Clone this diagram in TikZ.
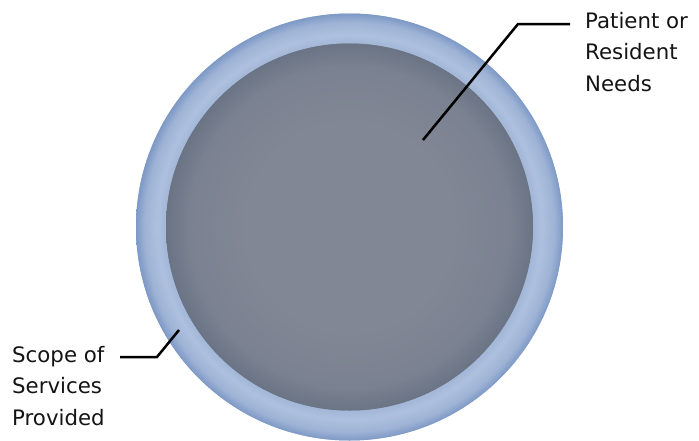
\documentclass[tikz,border=0pt]{standalone}
\usepackage{fontspec}
\setmainfont{DejaVu Sans}
\definecolor{ringL}{RGB}{174,192,222}
\definecolor{ringI}{RGB}{162,182,215}
\definecolor{ringM}{RGB}{158,179,213}
\definecolor{ringD}{RGB}{126,153,198}
\definecolor{diskC}{RGB}{129,135,149}
\definecolor{diskM}{RGB}{122,129,144}
\definecolor{diskE}{RGB}{106,116,133}
\definecolor{txt}{RGB}{20,20,20}
\pgfdeclareradialshading{ringshade}{\pgfpoint{0bp}{0bp}}{color(0bp)=(ringI); color(21.5bp)=(ringI); color(22.5bp)=(ringL); color(24bp)=(ringM); color(25bp)=(ringD); color(50bp)=(ringD)}
\pgfdeclareradialshading{diskshade}{\pgfpoint{0bp}{0bp}}{color(0bp)=(diskC); color(14bp)=(diskC); color(22bp)=(diskM); color(25bp)=(diskE); color(50bp)=(diskE)}
\newcommand{\lbllines}[3]{\vtop{\baselineskip=31.5pt\hbox{#1}\hbox{#2}\hbox{#3}}}
\tikzset{
  disc/.style={circle, inner sep=0pt, draw=none},
  leader/.style={draw=black, line width=2.5pt, line join=miter},
  lbl/.style={anchor=base west, inner sep=0pt, text=txt, font=\fontsize{21.3pt}{31.5pt}\selectfont},
}
\begin{document}
\begin{tikzpicture}[x=1pt,y=-1pt]
\useasboundingbox (0,0) rectangle (699,440);
\node[disc, minimum size=427pt, fill=ringM, shading=ringshade] (outer) at (349.5,227) {};
\node[disc, minimum size=367pt, fill=diskM, shading=diskshade] (inner) at (349.5,227) {};
\node[lbl] (needs) at (585,28) {\lbllines{Patient or}{Resident}{Needs}};
\node[lbl] (scope) at (12,362) {\lbllines{Scope of}{Services}{Provided}};
\coordinate (tipA) at (423,140);
\coordinate (elbowA) at (518,24);
\coordinate (endA) at (570,24);
\coordinate (tipB) at (179,330);
\coordinate (elbowB) at (157,357);
\coordinate (endB) at (120,357);
\draw[leader] (tipA) -- (elbowA) -- (endA);
\draw[leader] (tipB) -- (elbowB) -- (endB);
\end{tikzpicture}
\end{document}
